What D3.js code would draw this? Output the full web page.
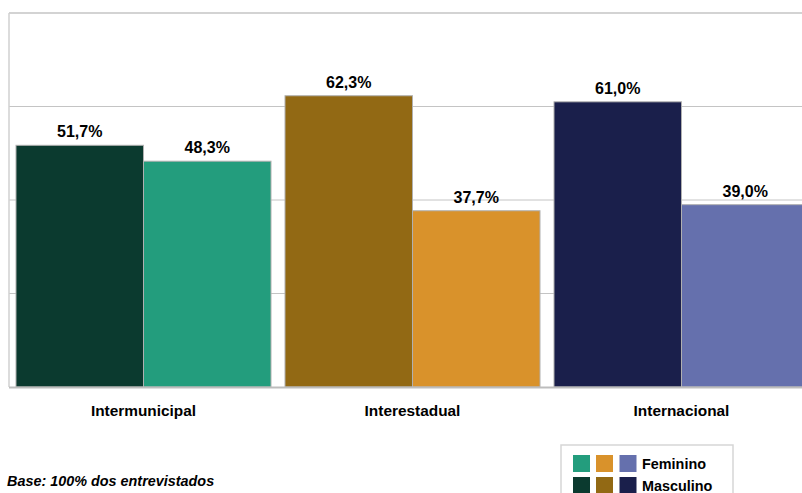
<!DOCTYPE html>
<html>
<head>
<meta charset="utf-8">
<script src="https://cdn.jsdelivr.net/npm/d3@7"></script>
<style>
  body { margin: 0; background: #fff; }
  svg { display: block; font-family: "Liberation Sans", Arial, sans-serif; }
</style>
</head>
<body>
<svg id="chart" width="802" height="493"></svg>
<script>
// categories and series
let categories = ['Intermunicipal', 'Interestadual', 'Internacional'];
let series = ['Masculino', 'Feminino'];
let masculino = [51.7, 62.3, 61.0];
let feminino = [48.3, 37.7, 39.0];
let yTicks = [0, 20, 40, 60, 80];

// each category has its own pair of colours
let darkColors = ['#0b3a2f', '#926914', '#1a1f4b'];
let lightColors = ['#239d7d', '#d9922b', '#6570ad'];

let svg = d3.select('#chart');

let plotTop = 13, plotBottom = 387, plotLeft = 9;

let y = d3.scaleLinear()
    .domain([0, 80])
    .range([plotBottom, plotTop]);

// the plot runs past the right edge of the picture, like the original
let x = d3.scaleBand()
    .domain(categories)
    .range([plotLeft, 816]);

let inner = d3.scaleBand()
    .domain(series)
    .range([7, x.bandwidth() - 7]);

// gridlines
svg.append('g')
    .selectAll('line')
    .data(yTicks.slice(1))
    .enter().append('line')
        .attr('x1', plotLeft).attr('x2', 802)
        .attr('y1', d => y(d)).attr('y2', d => y(d))
        .style('stroke', '#c4c4c4')
        .style('stroke-width', d => d === 80 ? 1.5 : 1);

// left frame edge
svg.append('line')
    .attr('x1', plotLeft).attr('x2', plotLeft)
    .attr('y1', plotTop).attr('y2', plotBottom)
    .style('stroke', '#d0d0d0').style('stroke-width', 1.5);

let fmt = v => v.toFixed(1).replace('.', ',') + '%';

let rows = [];
categories.forEach((c, i) => {
    rows.push({cat: c, s: 'Masculino', v: masculino[i], color: darkColors[i]});
    rows.push({cat: c, s: 'Feminino', v: feminino[i], color: lightColors[i]});
});

let bars = svg.append('g').selectAll('g')
    .data(rows)
    .enter().append('g');

bars.append('rect')
    .attr('x', d => x(d.cat) + inner(d.s))
    .attr('y', d => y(d.v))
    .attr('width', inner.bandwidth())
    .attr('height', d => plotBottom - y(d.v))
    .style('fill', d => d.color)
    .style('stroke', '#b0b0b0')
    .style('stroke-width', 1);

bars.append('text')
    .attr('x', d => x(d.cat) + inner(d.s) + inner.bandwidth() / 2)
    .attr('y', d => y(d.v) - 8)
    .attr('text-anchor', 'middle')
    .style('font-size', '16px')
    .style('font-weight', 'bold')
    .text(d => fmt(d.v));

// baseline axis
svg.append('line')
    .attr('x1', plotLeft).attr('x2', 802)
    .attr('y1', plotBottom + 0.5).attr('y2', plotBottom + 0.5)
    .style('stroke', '#bdbdbd').style('stroke-width', 2);

// category labels
svg.append('g').selectAll('text')
    .data(categories)
    .enter().append('text')
        .attr('x', d => x(d) + x.bandwidth() / 2)
        .attr('y', 415.5)
        .attr('text-anchor', 'middle')
        .style('font-size', '15.4px')
        .style('font-weight', 'bold')
        .text(d => d);

// footnote
svg.append('text')
    .attr('x', 7).attr('y', 486)
    .style('font-size', '14.4px')
    .style('font-weight', 'bold')
    .style('font-style', 'italic')
    .text('Base: 100% dos entrevistados');

// legend
let legend = svg.append('g').attr('transform', 'translate(561,445)');
legend.append('rect')
    .attr('x', 0).attr('y', 0)
    .attr('width', 172).attr('height', 60)
    .style('fill', '#fff')
    .style('stroke', '#d6d6d6').style('stroke-width', 1.5);

let legendRows = [
    {label: 'Feminino', colors: lightColors},
    {label: 'Masculino', colors: darkColors}
];
legendRows.forEach((r, ri) => {
    let g = legend.append('g').attr('transform', 'translate(0,' + (10 + ri * 22) + ')');
    g.selectAll('rect')
        .data(r.colors)
        .enter().append('rect')
            .attr('x', (d, i) => 12 + i * 23 + (i === 2 ? 0.5 : 0))
            .attr('y', 0)
            .attr('width', 17).attr('height', 17)
            .style('fill', d => d);
    g.append('text')
        .attr('x', 81).attr('y', 14)
        .style('font-size', '14.4px')
        .style('font-weight', 'bold')
        .text(r.label);
});
</script>
</body>
</html>
